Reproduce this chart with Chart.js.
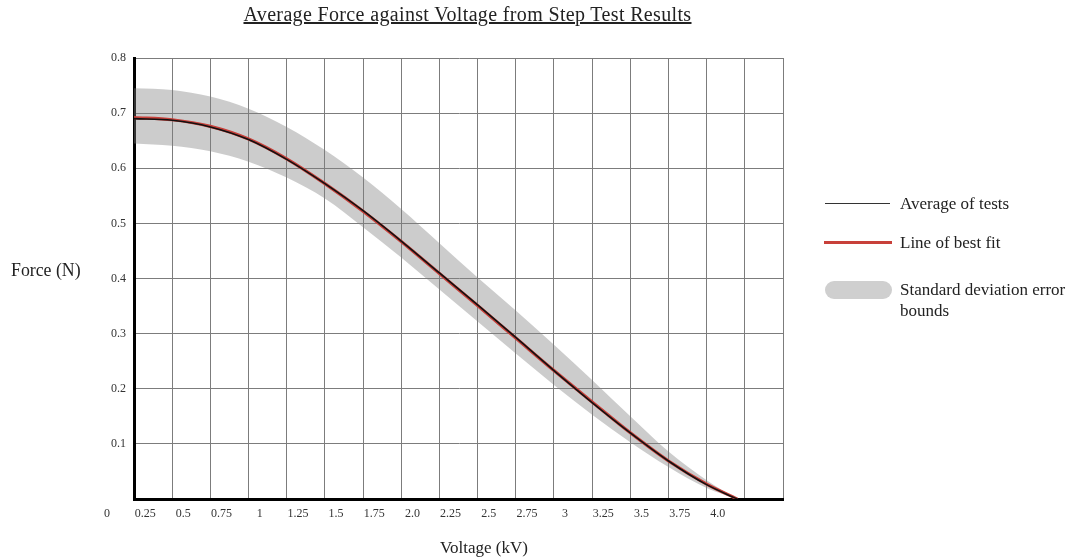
<!DOCTYPE html>
<html>
<head>
<meta charset="utf-8">
<title>Average Force against Voltage</title>
<script src="https://cdn.jsdelivr.net/npm/chart.js@4.4.1/dist/chart.umd.min.js"></script>
<style>
  body { margin: 0; background: #fff; }
  #wrap { position: relative; width: 1075px; height: 559px; font-family: "Liberation Serif", "Times New Roman", serif; color: #222; }
  #chart { position: absolute; left: 0; top: 0; }
  .txt { position: absolute; white-space: nowrap; }
  #titulo { left: 0; width: 935px; top: 3px; text-align: center; font-size: 20px; letter-spacing: 0.35px; text-decoration: underline; }
  #ylab { left: 11px; top: 260px; font-size: 17.8px; }
  #xlab { left: 384px; width: 200px; top: 538px; text-align: center; font-size: 17px; }
  .leg { position: absolute; left: 900px; font-size: 17px; line-height: 21px; white-space: nowrap; }
  .sym { position: absolute; }
</style>
</head>
<body>
<div id="wrap">
  <canvas id="chart" width="1075" height="559"></canvas>
  <div class="txt" id="titulo">Average Force against Voltage from Step Test Results</div>
  <div class="txt" id="ylab">Force (N)</div>
  <div class="txt" id="xlab">Voltage (kV)</div>

  <div class="sym" style="left:825px; top:203px; width:65px; height:1px; background:#333;"></div>
  <div class="leg" style="top:193px;">Average of tests</div>
  <div class="sym" style="left:824px; top:241px; width:68px; height:3px; background:#c8403a;"></div>
  <div class="leg" style="top:232px;">Line of best fit</div>
  <div class="sym" style="left:825px; top:281px; width:67px; height:18px; border-radius:9px; background:#cfcfcf;"></div>
  <div class="leg" style="top:279px;">Standard deviation error<br>bounds</div>
</div>

<script>
// Datos (voltaje en kV, fuerza en N)
const voltaje = [0, 0.25, 0.5, 0.75, 1.0, 1.25, 1.5, 1.75, 2.0, 2.25, 2.5, 2.75, 3.0, 3.25, 3.5, 3.75, 3.95];
const fuerzaMedia = [0.690, 0.687, 0.675, 0.652, 0.616, 0.572, 0.523, 0.468, 0.410, 0.352, 0.293, 0.233, 0.175, 0.120, 0.069, 0.026, 0];
const ajuste = [0.692, 0.688, 0.676, 0.653, 0.617, 0.572, 0.522, 0.467, 0.409, 0.351, 0.292, 0.233, 0.176, 0.120, 0.069, 0.027, 0];
const limiteSup = [0.745, 0.742, 0.730, 0.708, 0.675, 0.633, 0.583, 0.526, 0.464, 0.402, 0.342, 0.280, 0.216, 0.150, 0.086, 0.034, 0];
const limiteInf = [0.645, 0.641, 0.631, 0.612, 0.583, 0.545, 0.493, 0.438, 0.380, 0.322, 0.264, 0.207, 0.153, 0.103, 0.058, 0.020, 0];

// Etiquetas del eje X tal como aparecen (la última rejilla, 4.25, va sin texto)
const etiquetasX = ['0', '0.25', '0.5', '0.75', '1', '1.25', '1.5', '1.75', '2.0', '2.25', '2.5', '2.75', '3', '3.25', '3.5', '3.75', '4.0', ''];

function puntos(valores) {
  return voltaje.map((v, i) => ({ x: v, y: valores[i] }));
}

const fuente = { family: '"Liberation Serif", "Times New Roman", serif', size: 12 };

new Chart(document.getElementById('chart'), {
  type: 'line',
  data: {
    datasets: [
      { label: 'Average of tests', data: puntos(fuerzaMedia), borderColor: '#111', borderWidth: 1.6, order: 1 },
      { label: 'Line of best fit', data: puntos(ajuste), borderColor: '#c8403a', borderWidth: 3.2, order: 2 },
      { label: 'upper', data: puntos(limiteSup), borderWidth: 0, borderColor: 'rgba(0,0,0,0)',
        backgroundColor: 'rgba(128,128,128,0.4)', fill: '+1', order: 3 },
      { label: 'lower', data: puntos(limiteInf), borderWidth: 0, borderColor: 'rgba(0,0,0,0)', fill: false, order: 4 }
    ]
  },
  options: {
    responsive: false,
    animation: false,
    layout: { padding: { top: 58, right: 292, left: 0, bottom: 0 } },
    elements: {
      point: { radius: 0 },
      line: { cubicInterpolationMode: 'monotone' }
    },
    plugins: { legend: { display: false }, tooltip: { enabled: false } },
    scales: {
      x: {
        type: 'linear',
        min: 0, max: 4.25,
        afterFit: (s) => { s.height = 60; },
        grid: { color: '#7c7c7c', lineWidth: 1, drawTicks: false },
        border: { display: true, color: '#000', width: 3 },
        ticks: {
          stepSize: 0.25, autoSkip: false, maxRotation: 0, padding: 8, labelOffset: -27,
          color: '#333', font: fuente,
          callback: (v, i) => etiquetasX[i]
        }
      },
      y: {
        min: 0, max: 0.8,
        afterFit: (s) => { s.width = 134; },
        grid: { color: '#7c7c7c', lineWidth: 1, drawTicks: false },
        border: { display: true, color: '#000', width: 3 },
        ticks: {
          stepSize: 0.1, padding: 8, color: '#333', font: fuente,
          callback: (v) => (v === 0 ? '' : v.toFixed(1))
        }
      }
    }
  }
});
</script>
</body>
</html>
